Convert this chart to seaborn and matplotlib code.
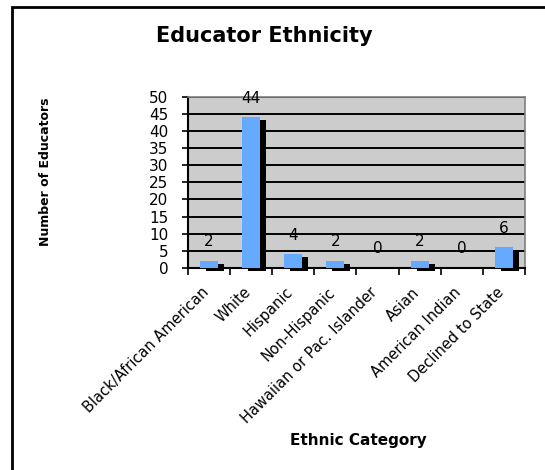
import matplotlib
matplotlib.use("Agg")
import matplotlib.pyplot as plt
import matplotlib.transforms as mtransforms
from matplotlib.patches import Rectangle
import numpy as np
import pandas as pd
import seaborn as sns

categories = ["Black/African American", "White", "Hispanic", "Non-Hispanic",
              "Hawaiian or Pac. Islander", "Asian", "American Indian",
              "Declined to State"]
educators = [2, 44, 4, 2, 0, 2, 0, 6]
y_ticks = [0, 5, 10, 15, 20, 25, 30, 35, 40, 45, 50]

df = pd.DataFrame({"category": categories, "count": educators})

sns.set_theme(style="white")
plt.rcParams["font.family"] = ["DejaVu Sans"]
plt.rcParams.update({"text.color": "black", "axes.labelcolor": "black",
                     "xtick.color": "black", "ytick.color": "black"})

fig = plt.figure(figsize=(5.45, 4.70), dpi=100)
ax = fig.add_axes([0.345, 0.430, 0.618, 0.364])
ax.set_facecolor("#CCCCCC")

# dark drop shadow behind each bar
sns.barplot(data=df, x="category", y="count", color="black", width=0.43,
            saturation=1, ax=ax, zorder=2)
shadow = list(ax.patches)
shift = mtransforms.ScaledTranslation(6 / 100, -3 / 100, fig.dpi_scale_trans)
for p in shadow:
    p.set_transform(ax.transData + shift)
    p.set_edgecolor("none")
    p.set_clip_on(False)

# main blue bars
sns.barplot(data=df, x="category", y="count", color="#66AAFF", width=0.43,
            saturation=1, ax=ax, zorder=3)
for p in ax.patches[len(shadow):]:
    p.set_edgecolor("none")

ax.set_xlim(-0.5, len(categories) - 0.5)
ax.set_ylim(0, 50)
ax.set_yticks(y_ticks)
ax.yaxis.grid(True, color="black", linewidth=1.4, zorder=1)
ax.set_axisbelow(True)

for i, v in enumerate(educators):
    ax.text(i, v + 5.6, str(v), ha="center", va="center", fontsize=11,
            color="black", zorder=5, clip_on=False)

# x ticks sit on the category boundaries
ax.set_xticks(np.arange(-0.5, len(categories)), minor=False)
ax.set_xticklabels([])
ax.set_xticks(np.arange(len(categories)), minor=True)
ax.set_xticklabels(categories, minor=True, rotation=45, ha="right",
                   rotation_mode="anchor", fontsize=10.5)
ax.tick_params(axis="x", which="minor", length=0, pad=12)
ax.tick_params(axis="x", which="major", direction="out", length=5,
               width=1.2, color="black", bottom=True)
ax.tick_params(axis="y", direction="out", length=4, width=1.2,
               color="black", left=True, labelsize=11, pad=10)
label_shift = mtransforms.ScaledTranslation(-8 / 100, 0, fig.dpi_scale_trans)
for lbl in ax.get_xticklabels(minor=True):
    lbl.set_transform(lbl.get_transform() + label_shift)

for side in ("left", "bottom"):
    ax.spines[side].set_color("black")
    ax.spines[side].set_linewidth(1.5)
for side in ("top", "right"):
    ax.spines[side].set_color("#808080")
    ax.spines[side].set_linewidth(1.2)

ax.set_xlabel("")
ax.set_ylabel("")
fig.text(0.657, 1 - 441 / 470, "Ethnic Category", ha="center", va="center",
         fontsize=11, fontweight="bold")
fig.text(0.083, 1 - 172 / 470, "Number of Educators", rotation=90,
         ha="center", va="center", fontsize=9, fontweight="bold")
fig.text(0.485, 1 - 36 / 470, "Educator Ethnicity", ha="center", va="center",
         fontsize=15, fontweight="bold")

# outer chart frame
fig.patches.append(Rectangle((12 / 545, -0.1), 1.0, 1.1 - 7 / 470,
                             transform=fig.transFigure, fill=False,
                             edgecolor="black", linewidth=2))

fig.savefig("out.png", dpi=100)
